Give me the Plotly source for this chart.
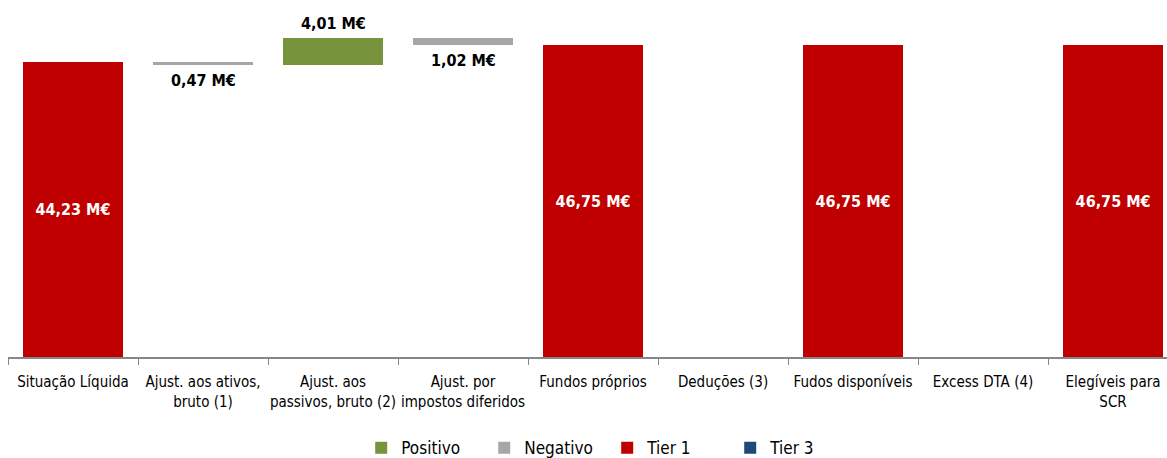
import plotly.graph_objects as go

categories = ["Situação Líquida", "Ajust. aos ativos,<br>bruto (1)", "Ajust. aos<br>passivos, bruto (2)",
              "Ajust. por<br>impostos diferidos", "Fundos próprios", "Deduções (3)",
              "Fudos disponíveis", "Excess DTA (4)", "Elegíveis para<br>SCR"]
tier1 = [44.23, 0, 0, 0, 46.75, 0, 46.75, 0, 46.75]
positivo = [0, 0, 4.01, 0, 0, 0, 0, 0, 0]
negativo = [0, 0.47, 0, 1.02, 0, 0, 0, 0, 0]
tier3 = [0, 0, 0, 0, 0, 0, 0, 0, 0]

# invisible base for waterfall steps
base = []
running = 0.0
for i in range(len(categories)):
    if tier1[i] > 0:
        base.append(0)
        running = tier1[i]
    elif positivo[i] > 0:
        base.append(running)
        running += positivo[i]
    elif negativo[i] > 0:
        running -= negativo[i]
        base.append(running)
    else:
        base.append(0)

def fmt(v):
    return f"{v:.2f}".replace(".", ",") + " M€"

FONT = "DejaVu Sans Condensed, Liberation Sans Narrow, Arial Narrow, Liberation Sans, Arial"
NOLINE = dict(width=0)

fig = go.Figure()
fig.add_bar(x=categories, y=base, marker=dict(color="rgba(0,0,0,0)", line=NOLINE),
            showlegend=False, hoverinfo="skip")
fig.add_bar(x=categories, y=positivo, name="Positivo", marker=dict(color="#77933C", line=NOLINE))
fig.add_bar(x=categories, y=negativo, name="Negativo", marker=dict(color="#A6A6A6", line=NOLINE))
fig.add_bar(x=categories, y=tier1, name="Tier 1", marker=dict(color="#C00000", line=NOLINE),
            text=[fmt(v) if v > 0 else "" for v in tier1], textposition="inside",
            insidetextanchor="middle", textangle=0,
            textfont=dict(family=FONT, size=16, color="white", weight="bold"))
fig.add_bar(x=categories, y=tier3, name="Tier 3", marker=dict(color="#1F497D", line=NOLINE))

for i, c in enumerate(categories):
    if positivo[i] > 0:
        fig.add_annotation(x=c, y=base[i] + positivo[i], text=f"<b>{fmt(positivo[i])}</b>",
                           showarrow=False, yanchor="bottom", yshift=3,
                           font=dict(family=FONT, size=16, color="black"))
    if negativo[i] > 0:
        fig.add_annotation(x=c, y=base[i], text=f"<b>{fmt(negativo[i])}</b>",
                           showarrow=False, yanchor="top", yshift=-4,
                           font=dict(family=FONT, size=16, color="black"))

fig.update_layout(
    width=1167, height=458,
    margin=dict(l=8, r=0, t=20, b=101, autoexpand=False),
    barmode="stack", bargap=0.23,
    plot_bgcolor="white", paper_bgcolor="white",
    font=dict(family=FONT, size=15, color="black"),
    legend=dict(orientation="h", x=0.517, xanchor="center", y=-0.217, yanchor="top",
                font=dict(family=FONT, size=17), traceorder="normal",
                entrywidth=78, itemwidth=30),
)
fig.update_xaxes(range=[-0.5, 8.415], showline=True, linecolor="#868686", linewidth=2,
                 ticks="outside", tickson="boundaries", ticklen=6, tickcolor="#868686",
                 tickangle=0, automargin=False, ticklabelstandoff=10,
                 tickfont=dict(family=FONT, size=15), showgrid=False)
fig.update_yaxes(range=[0, 50.5], visible=False, showgrid=False, automargin=False)

fig.write_html("out.html", config={"displayModeBar": False},
               post_script="document.body.style.margin='0';")
